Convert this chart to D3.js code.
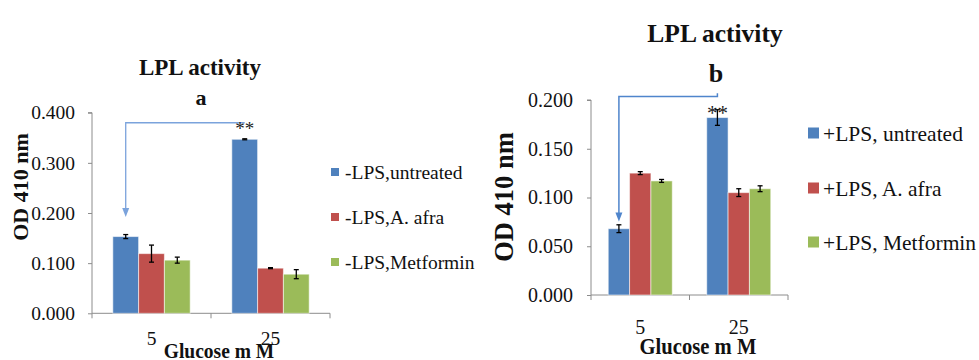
<!DOCTYPE html>
<html>
<head>
<meta charset="utf-8">
<script src="https://cdn.jsdelivr.net/npm/d3@7/dist/d3.min.js"></script>
<style>
  html, body { margin: 0; padding: 0; background: #fff; }
  svg, svg text { font-family: 'Liberation Serif', 'Times New Roman', Times, serif !important; }
</style>
</head>
<body>
<svg id="chart" width="979" height="360"></svg>
<script>
// ---------------- DATA ----------------
const categories = ["5", "25"];

const seriesA = ["-LPS,untreated", "-LPS,A. afra", "-LPS,Metformin"];
const valuesA = [
  [0.153, 0.347],   // -LPS,untreated
  [0.119, 0.090],   // -LPS,A. afra
  [0.106, 0.078]    // -LPS,Metformin
];
const errorsA = [
  [0.004, 0.001],
  [0.017, 0.001],
  [0.006, 0.009]
];
const ticksA = [0, 0.1, 0.2, 0.3, 0.4];

const seriesB = ["+LPS, untreated", "+LPS, A. afra", "+LPS, Metformin"];
const valuesB = [
  [0.068, 0.182],
  [0.125, 0.105],
  [0.117, 0.109]
];
const errorsB = [
  [0.004, 0.008],
  [0.0015, 0.004],
  [0.0015, 0.003]
];
const ticksB = [0, 0.05, 0.1, 0.15, 0.2];

const colors = ["#4f81bd", "#c0504d", "#9bbb59"];

// significance annotation: from the 25 mM untreated bar back to the 5 mM untreated bar
const annotA = { fromCat: "25", toCat: "5", level: 0.380, tip: 0.192, label: "**", labelVal: 0.349, endTick: 0 };
const annotB = { fromCat: "25", toCat: "5", level: 0.2035, tip: 0.0755, label: "**", labelVal: 0.183, endTick: 0.0035 };

// ---------------- LAYOUT ----------------
const FONT = "'Liberation Serif', 'Times New Roman', Times, serif";
const svg = d3.select("#chart").attr("font-family", FONT);
const fmt = d3.format(".3f");

function drawPanel(p) {
  const g = svg.append("g").attr("font-family", FONT);
  const x = d3.scaleBand().domain(categories).range([p.x0, p.x1]).paddingInner(0).paddingOuter(0);
  const y = d3.scaleLinear().domain([p.ticks[0], p.ticks[p.ticks.length - 1]]).range([p.yBottom, p.yTop]);
  const groupW = x.bandwidth() * 0.65;
  const xs = d3.scaleBand().domain(d3.range(p.series.length)).range([0, groupW]);

  // y axis
  const yAxis = d3.axisLeft(y).tickValues(p.ticks).tickFormat(fmt).tickSize(4).tickPadding(p.tickPad);
  const ya = g.append("g").attr("transform", `translate(${p.x0},0)`).call(yAxis).attr("font-family", FONT);
  ya.select(".domain").attr("stroke", "#8c8c8c").attr("d", `M-4,${p.yTop}H0V${p.yBottom}`);
  ya.selectAll(".tick line").attr("stroke", "#8c8c8c");
  ya.selectAll(".tick text").attr("font-size", p.tickFont).attr("fill", "#111").attr("font-family", FONT);

  // x axis
  const xAxis = d3.axisBottom(x).tickSize(0).tickFormat("");
  const xa = g.append("g").attr("transform", `translate(0,${p.yBottom})`).call(xAxis);
  xa.select(".domain").attr("stroke", "#8c8c8c").attr("d", `M${p.x0},0H${p.x1}`);
  xa.selectAll(".tick").remove();
  // category boundary ticks
  const bounds = categories.map(c => x(c)).concat([p.x1]);
  g.selectAll(".xb").data(bounds).enter().append("line")
    .attr("x1", d => d).attr("x2", d => d)
    .attr("y1", p.yBottom).attr("y2", p.yBottom + 5)
    .attr("stroke", "#8c8c8c");
  // category labels
  g.selectAll(".xl").data(categories).enter().append("text")
    .attr("x", d => x(d) + x.bandwidth() / 2)
    .attr("y", p.catY)
    .attr("text-anchor", "middle").attr("font-size", p.tickFont).attr("fill", "#111")
    .attr("font-family", FONT)
    .text(d => d);

  // bars
  p.series.forEach((s, si) => {
    categories.forEach((c, ci) => {
      const v = p.values[si][ci];
      const bx = x(c) + (x.bandwidth() - groupW) / 2 + xs(si);
      g.append("rect")
        .attr("x", bx).attr("y", y(v))
        .attr("width", xs.bandwidth()).attr("height", y(0) - y(v))
        .attr("fill", colors[si])
        .attr("stroke", "rgba(255,255,255,0.55)").attr("stroke-width", 1);
      // error bars
      const e = p.errors[si][ci];
      const cx = bx + xs.bandwidth() / 2;
      const eg = g.append("g").attr("stroke", "#000").attr("stroke-width", 1.3);
      eg.append("line").attr("x1", cx).attr("x2", cx).attr("y1", y(v + e)).attr("y2", y(v - e));
      eg.append("line").attr("x1", cx - 2.5).attr("x2", cx + 2.5).attr("y1", y(v + e)).attr("y2", y(v + e));
      eg.append("line").attr("x1", cx - 2.5).attr("x2", cx + 2.5).attr("y1", y(v - e)).attr("y2", y(v - e));
    });
  });

  // annotation arrow
  const a = p.annot;
  const barCenter = c => x(c) + (x.bandwidth() - groupW) / 2 + xs(0) + xs.bandwidth() / 2;
  const xFrom = barCenter(a.fromCat), xTo = barCenter(a.toCat);
  const tipY = y(a.tip);
  const d = `M${xFrom},${y(a.level + a.endTick)}V${y(a.level)}H${xTo}V${tipY - 8}`;
  g.append("path").attr("d", d).attr("fill", "none").attr("stroke", p.arrowColor).attr("stroke-width", p.arrowW);
  g.append("path")
    .attr("d", `M${xTo - 3.5},${tipY - 9}L${xTo + 3.5},${tipY - 9}L${xTo},${tipY}Z`)
    .attr("fill", p.arrowColor);
  g.append("text").attr("x", xFrom).attr("y", y(a.labelVal) + p.starDy)
    .attr("text-anchor", "middle").attr("font-size", p.starFont).attr("fill", "#222")
    .attr("font-family", FONT)
    .text(a.label);

  // titles
  g.append("text").attr("x", p.titleX).attr("y", p.titleY).attr("text-anchor", "middle")
    .attr("font-family", FONT)
    .attr("font-weight", "bold").attr("font-size", p.titleFont).attr("fill", "#111").text("LPL activity");
  g.append("text").attr("x", p.subX).attr("y", p.subY).attr("text-anchor", "middle")
    .attr("font-family", FONT)
    .attr("font-weight", "bold").attr("font-size", p.subFont).attr("fill", "#111").text(p.sub);

  // y axis title
  g.append("text").attr("transform", `translate(${p.yTitleX},${p.yTitleY}) rotate(-90)`)
    .attr("font-family", FONT)
    .attr("text-anchor", "middle").attr("font-weight", "bold").attr("font-size", p.yTitleFont)
    .attr("fill", "#111").text("OD 410 nm");

  // x axis title
  g.append("text").attr("transform", `translate(${p.xTitleX},${p.xTitleY}) scale(${p.xTitleSx},1)`)
    .attr("font-family", FONT)
    .attr("text-anchor", "middle").attr("font-weight", "bold").attr("font-size", p.xTitleFont)
    .attr("fill", "#111").text("Glucose m M");

  // legend
  const lg = g.append("g");
  p.series.forEach((s, si) => {
    const ly = p.legY[si];
    lg.append("rect").attr("x", p.legX).attr("y", ly - p.legSq / 2)
      .attr("width", p.legSq).attr("height", p.legSq).attr("fill", colors[si]);
    lg.append("text").attr("x", p.legX + p.legSq + p.legGap).attr("y", ly)
      .attr("font-family", FONT)
      .attr("dy", "0.35em").attr("font-size", p.legFont).attr("fill", "#111").text(s);
  });
}

drawPanel({
  series: seriesA, values: valuesA, errors: errorsA, ticks: ticksA,
  x0: 92, x1: 330, yTop: 112.7, yBottom: 313.3,
  tickFont: 19.5, tickPad: 13, catY: 345,
  annot: annotA, arrowColor: "#7ba3dc", arrowW: 1.3, starFont: 19, starDy: -3,
  titleX: 200, titleY: 75, titleFont: 23, sub: "a", subX: 201, subY: 105, subFont: 22,
  yTitleX: 28, yTitleY: 187, yTitleFont: 22,
  xTitleX: 219, xTitleY: 358, xTitleFont: 21, xTitleSx: 0.93,
  legX: 331, legY: [172, 217, 262], legSq: 8, legGap: 6, legFont: 19.5
});

drawPanel({
  series: seriesB, values: valuesB, errors: errorsB, ticks: ticksB,
  x0: 591, x1: 788, yTop: 100, yBottom: 295,
  tickFont: 20, tickPad: 14, catY: 334,
  annot: annotB, arrowColor: "#4f85cc", arrowW: 1.5, starFont: 21, starDy: 3,
  titleX: 715, titleY: 42, titleFont: 25.5, sub: "b", subX: 716, subY: 81.5, subFont: 26,
  yTitleX: 513, yTitleY: 197, yTitleFont: 26.5,
  xTitleX: 698, xTitleY: 354, xTitleFont: 24, xTitleSx: 0.86,
  legX: 808, legY: [133, 188, 242], legSq: 11, legGap: 4, legFont: 21.5
});
</script>
</body>
</html>
